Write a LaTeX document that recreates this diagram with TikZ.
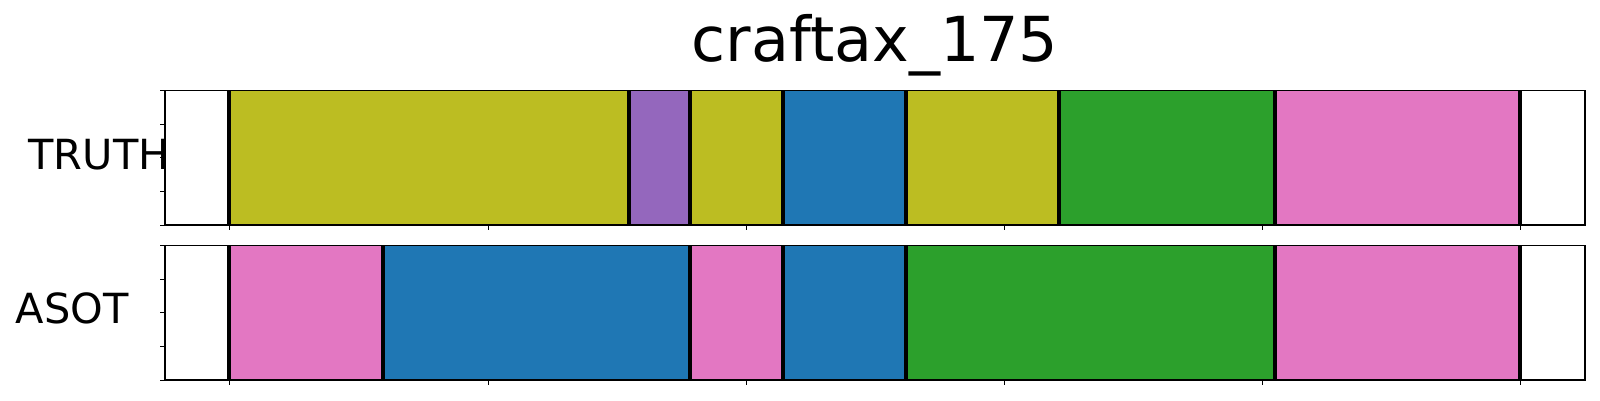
\documentclass[tikz,border=0pt]{standalone}
\usepackage{fontspec}
\setmainfont{DejaVu Sans}
\definecolor{tabolive}{HTML}{BCBD22}
\definecolor{tabpurple}{HTML}{9467BD}
\definecolor{tabblue}{HTML}{1F77B4}
\definecolor{tabgreen}{HTML}{2CA02C}
\definecolor{tabpink}{HTML}{E377C2}
\begin{document}
\begin{tikzpicture}[x=1pt,y=-1pt,
  bound/.style={line width=3.6pt,black},
  axframe/.style={line width=1.1pt,black},
  tickmark/.style={line width=0.9pt,black},
  lbl/.style={inner sep=0pt,font=\fontsize{41.5}{50}\selectfont}]
\useasboundingbox[fill=white] (0,0) rectangle (1600,400);
% ---------- top axes (TRUTH) ----------
\def\ta{90.7}\def\tb{225}
\fill[tabolive]  (229,\ta) rectangle (629,\tb);
\fill[tabpurple] (629,\ta) rectangle (690,\tb);
\fill[tabolive]  (690,\ta) rectangle (782.7,\tb);
\fill[tabblue]   (782.7,\ta) rectangle (905.7,\tb);
\fill[tabolive]  (905.7,\ta) rectangle (1059,\tb);
\fill[tabgreen]  (1059,\ta) rectangle (1275,\tb);
\fill[tabpink]   (1275,\ta) rectangle (1520,\tb);
\foreach \x in {229,629,690,782.7,905.7,1059,1275,1520}
  \draw[bound] (\x,\ta) -- (\x,\tb);
\draw[axframe] (165,\ta) rectangle (1585,\tb);
% ---------- bottom axes (ASOT) ----------
\def\ba{245.3}\def\bb{380}
\fill[tabpink]  (229,\ba) rectangle (382.7,\bb);
\fill[tabblue]  (382.7,\ba) rectangle (690,\bb);
\fill[tabpink]  (690,\ba) rectangle (782.7,\bb);
\fill[tabblue]  (782.7,\ba) rectangle (905.7,\bb);
\fill[tabgreen] (905.7,\ba) rectangle (1275,\bb);
\fill[tabpink]  (1275,\ba) rectangle (1520,\bb);
\foreach \x in {229,382.7,690,782.7,905.7,1275,1520}
  \draw[bound] (\x,\ba) -- (\x,\bb);
\draw[axframe] (165,\ba) rectangle (1585,\bb);
% ---------- ticks ----------
\foreach \x in {229,488,746.7,1004.3,1262,1520} {
  \draw[tickmark] (\x,\tb) -- ++(0,5);
  \draw[tickmark] (\x,\bb) -- ++(0,5);
}
\foreach \i in {0,1,2,3,4} {
  \draw[tickmark] (165,{\ta+\i*33.575}) -- ++(-5,0);
  \draw[tickmark] (165,{\ba+\i*33.675}) -- ++(-5,0);
}
% ---------- texts ----------
\node[inner sep=0pt,anchor=base,font=\fontsize{62}{74}\selectfont] (title) at (875,61.7) {craftax\_175};
\node[lbl,anchor=base west] (truth) at (28.3,169.3) {TRUTH};
\node[lbl,anchor=base west] (asot) at (15.5,323.3) {ASOT};
\end{tikzpicture}
\end{document}
